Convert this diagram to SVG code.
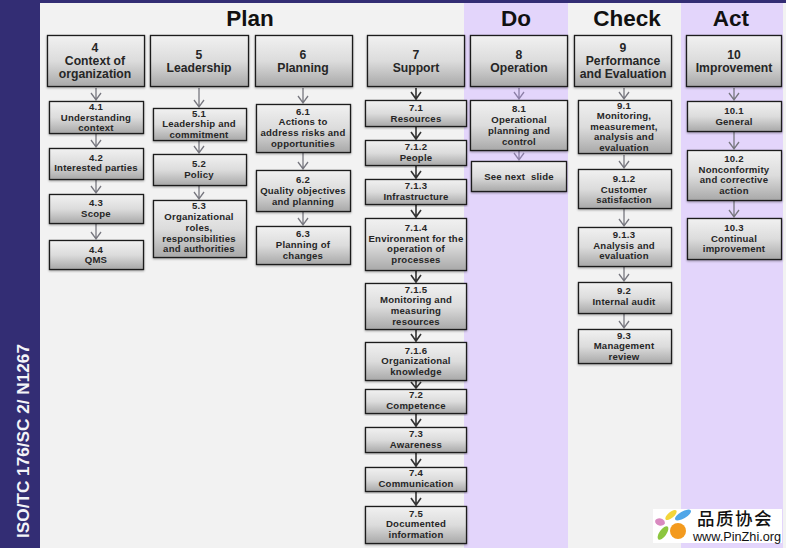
<svg xmlns="http://www.w3.org/2000/svg" width="786" height="548" viewBox="0 0 786 548">
<style>
text{font-family:"Liberation Sans",Arial,sans-serif;font-weight:700;text-anchor:middle;fill:#262626}
.h{font-size:22.5px;fill:#111}
.t{font-size:12.2px}
.s{font-size:9.6px;letter-spacing:.2px}
.b{fill:url(#g);stroke:#1c1c1c;stroke-width:1.3;filter:url(#sh)}
</style>
<defs>
<linearGradient id="g" x1="0" y1="0" x2="0" y2="1"><stop offset="0" stop-color="#f1f1f1"/><stop offset=".5" stop-color="#dcdcdc"/><stop offset="1" stop-color="#a8a8a8"/></linearGradient>
<filter id="sh" x="-5%" y="-5%" width="110%" height="115%"><feDropShadow dx="0" dy="1" stdDeviation="0.8" flood-color="#000" flood-opacity=".35"/></filter>
</defs>
<rect width="786" height="548" fill="#f2f2f2"/>
<rect x="464" y="3" width="104" height="545" fill="#e3d5fb"/>
<rect x="681" y="3" width="102" height="545" fill="#e3d5fb"/>
<rect width="40" height="548" fill="#332d74"/>
<rect width="786" height="3" fill="#332d74"/>
<text transform="translate(29 441) rotate(-90)" style="font-size:17.2px;fill:#f4f4f8">ISO/TC 176/SC 2/ N1267</text>
<text class="h" x="250" y="26">Plan</text>
<text class="h" x="516" y="26">Do</text>
<text class="h" x="627" y="26">Check</text>
<text class="h" x="731" y="26">Act</text>
<g id="connectors">
<g fill="none" stroke="#77777f" stroke-width="1.3">
<path d="M96 88V100M91 93L96 100L101 93M96 134V147M91 140L96 147L101 140M96 180V193M91 186L96 193L101 186M96 224V239M91 232L96 239L101 232"/>
<path d="M199 88V107M194 100L199 107L204 100M199 141V153M194 146L199 153L204 146M199 186V199M194 192L199 199L204 192"/>
<path d="M303 88V103M298 96L303 103L308 96M303 153V169M298 162L303 169L308 162M303 212V225M298 218L303 225L308 218"/>
<path d="M624 88V99M619 92L624 99L629 92M624 155V168M619 161L624 168L629 161M624 209V226M619 219L624 226L629 219M624 267V281M619 274L624 281L629 274M624 314V328M619 321L624 328L629 321"/>
<path d="M734 88V100M729 93L734 100L739 93M734 132V149M729 142L734 149L739 142M734 201V217M729 210L734 217L739 210"/>
</g>
<path fill="none" stroke="#8d80a8" stroke-width="1.3" d="M519 88V99M514 92L519 99L524 92M519 151V160M514 153L519 160L524 153"/>
<path fill="none" stroke="#333" stroke-width="1.6" d="M416 88V99M411 92L416 99L421 92M416 127V139M411 132L416 139L421 132M416 166V178M411 171L416 178L421 171M416 205V217M411 210L416 217L421 210M416 271V282M411 275L416 282L421 275M416 329V341M411 334L416 341L421 334M416 381V388M411 382L416 388L421 382M416 414V426M411 419L416 426L421 419M416 453V466M411 459L416 466L421 459M416 492V505M411 498L416 505L421 498"/>
</g>
<g id="n4"><rect class="b" x="47.500" y="35.500" width="97" height="51"/><text class="t" x="95" y="52">4</text><text class="t" x="95" y="65">Context of</text><text class="t" x="95" y="78">organization</text></g>
<g id="n4-1"><rect class="b" x="49.500" y="101.500" width="94" height="32"/><text class="s" x="96" y="110">4.1</text><text class="s" x="96" y="120.500">Understanding</text><text class="s" x="96" y="131">context</text></g>
<g id="n4-2"><rect class="b" x="49.500" y="148.500" width="94" height="31"/><text class="s" x="96" y="160.500">4.2</text><text class="s" x="96" y="171">Interested parties</text></g>
<g id="n4-3"><rect class="b" x="49.500" y="194.500" width="94" height="29"/><text class="s" x="96" y="206">4.3</text><text class="s" x="96" y="217">Scope</text></g>
<g id="n4-4"><rect class="b" x="49.500" y="240.500" width="94" height="29"/><text class="s" x="96" y="252.500">4.4</text><text class="s" x="96" y="263">QMS</text></g>
<g id="n5"><rect class="b" x="150.500" y="35.500" width="98" height="51"/><text class="t" x="199" y="59">5</text><text class="t" x="199" y="72">Leadership</text></g>
<g id="n5-1"><rect class="b" x="153.500" y="108.500" width="93" height="32"/><text class="s" x="199" y="117">5.1</text><text class="s" x="199" y="127">Leadership and</text><text class="s" x="199" y="138">commitment</text></g>
<g id="n5-2"><rect class="b" x="153.500" y="154.500" width="93" height="31"/><text class="s" x="199" y="167">5.2</text><text class="s" x="199" y="178">Policy</text></g>
<g id="n5-3"><rect class="b" x="153.500" y="200.500" width="93" height="57"/><text class="s" x="199" y="209">5.3</text><text class="s" x="199" y="220">Organizational</text><text class="s" x="199" y="231">roles,</text><text class="s" x="199" y="241.500">responsibilities</text><text class="s" x="199" y="252">and authorities</text></g>
<g id="n6"><rect class="b" x="255.500" y="35.500" width="97" height="51"/><text class="t" x="303" y="59">6</text><text class="t" x="303" y="72">Planning</text></g>
<g id="n6-1"><rect class="b" x="256.500" y="104.500" width="94" height="48"/><text class="s" x="303" y="115">6.1</text><text class="s" x="303" y="125">Actions to</text><text class="s" x="303" y="136">address risks and</text><text class="s" x="303" y="147">opportunities</text></g>
<g id="n6-2"><rect class="b" x="256.500" y="170.500" width="94" height="41"/><text class="s" x="303" y="183">6.2</text><text class="s" x="303" y="194">Quality objectives</text><text class="s" x="303" y="205">and planning</text></g>
<g id="n6-3"><rect class="b" x="256.500" y="226.500" width="94" height="38"/><text class="s" x="303" y="237">6.3</text><text class="s" x="303" y="248">Planning of</text><text class="s" x="303" y="259">changes</text></g>
<g id="n7"><rect class="b" x="367.500" y="35.500" width="97" height="51"/><text class="t" x="416" y="59">7</text><text class="t" x="416" y="72">Support</text></g>
<g id="n7-1"><rect class="b" x="365.500" y="100.500" width="101" height="26"/><text class="s" x="416" y="111">7.1</text><text class="s" x="416" y="122">Resources</text></g>
<g id="n7-1-2"><rect class="b" x="365.500" y="140.500" width="101" height="25"/><text class="s" x="416" y="150">7.1.2</text><text class="s" x="416" y="161">People</text></g>
<g id="n7-1-3"><rect class="b" x="365.500" y="179.500" width="101" height="25"/><text class="s" x="416" y="189">7.1.3</text><text class="s" x="416" y="200">Infrastructure</text></g>
<g id="n7-1-4"><rect class="b" x="365.500" y="218.500" width="101" height="52"/><text class="s" x="416" y="231">7.1.4</text><text class="s" x="416" y="242">Environment for the</text><text class="s" x="416" y="252">operation of</text><text class="s" x="416" y="263">processes</text></g>
<g id="n7-1-5"><rect class="b" x="365.500" y="283.500" width="101" height="46"/><text class="s" x="416" y="293">7.1.5</text><text class="s" x="416" y="303">Monitoring and</text><text class="s" x="416" y="314">measuring</text><text class="s" x="416" y="324.500">resources</text></g>
<g id="n7-1-6"><rect class="b" x="365.500" y="342.500" width="101" height="38"/><text class="s" x="416" y="353.500">7.1.6</text><text class="s" x="416" y="364">Organizational</text><text class="s" x="416" y="375">knowledge</text></g>
<g id="n7-2"><rect class="b" x="365.500" y="389.500" width="101" height="24"/><text class="s" x="416" y="398">7.2</text><text class="s" x="416" y="409">Competence</text></g>
<g id="n7-3"><rect class="b" x="365.500" y="427.500" width="101" height="25"/><text class="s" x="416" y="437">7.3</text><text class="s" x="416" y="448">Awareness</text></g>
<g id="n7-4"><rect class="b" x="365.500" y="467.500" width="101" height="24"/><text class="s" x="416" y="476">7.4</text><text class="s" x="416" y="487">Communication</text></g>
<g id="n7-5"><rect class="b" x="365.500" y="506.500" width="101" height="37"/><text class="s" x="416" y="516.500">7.5</text><text class="s" x="416" y="527">Documented</text><text class="s" x="416" y="538">information</text></g>
<g id="n8"><rect class="b" x="470.500" y="35.500" width="97" height="51"/><text class="t" x="519" y="59">8</text><text class="t" x="519" y="72">Operation</text></g>
<g id="n8-1"><rect class="b" x="470.500" y="100.500" width="97" height="50"/><text class="s" x="519" y="112">8.1</text><text class="s" x="519" y="123">Operational</text><text class="s" x="519" y="134">planning and</text><text class="s" x="519" y="145">control</text></g>
<g id="n8-next"><rect class="b" x="471.500" y="161.500" width="95" height="30"/><text class="s" x="519" y="180" xml:space="preserve">See next  slide</text></g>
<g id="n9"><rect class="b" x="574.500" y="35.500" width="97" height="51"/><text class="t" x="623" y="52">9</text><text class="t" x="623" y="65">Performance</text><text class="t" x="623" y="78">and Evaluation</text></g>
<g id="n9-1"><rect class="b" x="578.500" y="100.500" width="93" height="53"/><text class="s" x="624" y="108.500">9.1</text><text class="s" x="624" y="119">Monitoring,</text><text class="s" x="624" y="129.500">measurement,</text><text class="s" x="624" y="140">analysis and</text><text class="s" x="624" y="151">evaluation</text></g>
<g id="n9-1-2"><rect class="b" x="578.500" y="169.500" width="93" height="39"/><text class="s" x="624" y="182">9.1.2</text><text class="s" x="624" y="192.500">Customer</text><text class="s" x="624" y="203">satisfaction</text></g>
<g id="n9-1-3"><rect class="b" x="578.500" y="227.500" width="93" height="39"/><text class="s" x="624" y="238">9.1.3</text><text class="s" x="624" y="249">Analysis and</text><text class="s" x="624" y="259">evaluation</text></g>
<g id="n9-2"><rect class="b" x="578.500" y="282.500" width="93" height="31"/><text class="s" x="624" y="294">9.2</text><text class="s" x="624" y="305">Internal audit</text></g>
<g id="n9-3"><rect class="b" x="578.500" y="329.500" width="93" height="34"/><text class="s" x="624" y="339">9.3</text><text class="s" x="624" y="349">Management</text><text class="s" x="624" y="360">review</text></g>
<g id="n10"><rect class="b" x="686.500" y="35.500" width="95" height="51"/><text class="t" x="734" y="59">10</text><text class="t" x="734" y="72">Improvement</text></g>
<g id="n10-1"><rect class="b" x="687.500" y="101.500" width="94" height="30"/><text class="s" x="734" y="114">10.1</text><text class="s" x="734" y="125">General</text></g>
<g id="n10-2"><rect class="b" x="687.500" y="150.500" width="94" height="50"/><text class="s" x="734" y="162">10.2</text><text class="s" x="734" y="172.500">Nonconformity</text><text class="s" x="734" y="183">and corrective</text><text class="s" x="734" y="193.500">action</text></g>
<g id="n10-3"><rect class="b" x="687.500" y="218.500" width="94" height="41"/><text class="s" x="734" y="231">10.3</text><text class="s" x="734" y="241.500">Continual</text><text class="s" x="734" y="252">improvement</text></g>
<g id="logo">
<rect x="653" y="509" width="129" height="34" fill="#fff"/>
<ellipse cx="660" cy="522" rx="5" ry="3.500" fill="#d98ac0" transform="rotate(15 660 522)"/>
<ellipse cx="671" cy="515" rx="7" ry="3" fill="#f3d53b" transform="rotate(-40 671 515)"/>
<ellipse cx="683" cy="515" rx="9" ry="3.500" fill="#4fa6e8" transform="rotate(-30 683 515)"/>
<ellipse cx="663" cy="533" rx="8" ry="3.500" fill="#8cc63f" transform="rotate(-55 663 533)"/>
<circle cx="678" cy="531" r="8" fill="#f39a1e"/>
<text x="735" y="525" style="font-family:'Noto Sans CJK SC',sans-serif;font-size:17.500px;fill:#111;font-weight:500;letter-spacing:1.500px">品质协会</text>
<text x="737" y="541" style="font-size:12.700px;fill:#111;font-weight:400">www.PinZhi.org</text>
</g>
</svg>
